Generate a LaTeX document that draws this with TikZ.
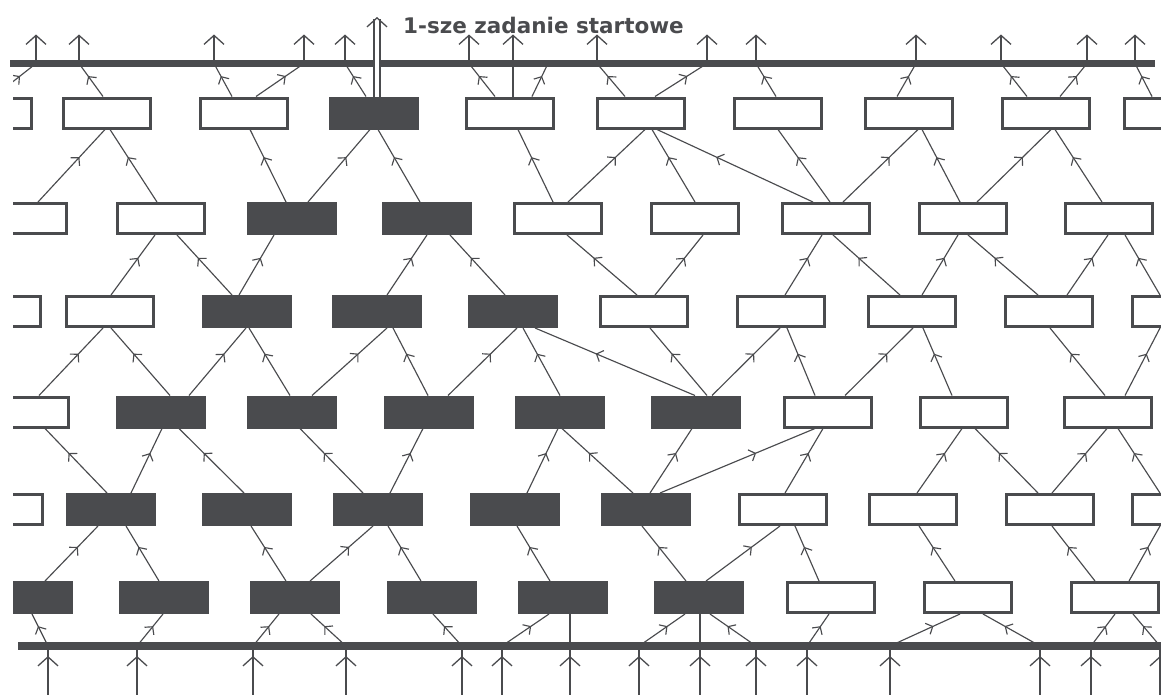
\documentclass[tikz,border=0pt]{standalone}
\usepackage{fontspec}
\newfontfamily\notefont{DejaVu Sans}
\usepackage{tikz}
\usetikzlibrary{arrows.meta,backgrounds,decorations.markings}
\definecolor{ink}{RGB}{74,75,78}
\tikzset{
  task/.style     = {draw=ink, line width=3pt, fill=white, inner sep=0pt,
                     minimum width=87pt, minimum height=30pt},
  donetask/.style = {task, fill=ink},
  dep/.style      = {draw=ink, line width=1.15pt, postaction={decorate},
                     decoration={markings, mark=at position 0.62 with
                       {\arrow[ink]{Straight Barb[length=5.5pt,width=12pt]}}}},
  plaindep/.style = {draw=ink, line width=1.15pt},
  bus/.style      = {draw=ink, line width=7.5pt},
  exit/.style     = {draw=ink, line width=1.3pt,
                     -{Straight Barb[length=9pt,width=20pt]}},
  entry/.style    = {draw=ink, line width=1.3pt, postaction={decorate},
                     decoration={markings, mark=at position 0.8 with
                       {\arrow[ink]{Straight Barb[length=9pt,width=20pt]}}}},
}

\begin{document}
\begin{tikzpicture}[x=1pt, y=-1pt]
\useasboundingbox (0,0) rectangle (1161,694);
% task rows (the ones at the edges stick out and get clipped)
\begin{scope}
\clip (13,0) rectangle (1161,694);
\foreach \n/\x/\s in {A0/-12/task, A1/107/task, A2/244/task, A3/374/donetask,
    A4/510/task, A5/641/task, A6/778/task, A7/909/task, A8/1046/task, A9/1168/task}
  \node[\s] (\n) at (\x,113) {};
\foreach \n/\x/\s in {B0/23/task, B1/161/task, B2/292/donetask, B3/427/donetask,
    B4/558/task, B5/695/task, B6/826/task, B7/963/task, B8/1109/task}
  \node[\s] (\n) at (\x,218.5) {};
\foreach \n/\x/\s in {C0/-3/task, C1/110/task, C2/247/donetask, C3/377/donetask,
    C4/513/donetask, C5/644/task, C6/781/task, C7/912/task, C8/1049/task, C9/1176/task}
  \node[\s] (\n) at (\x,311.5) {};
\foreach \n/\x/\s in {D0/25/task, D1/161/donetask, D2/292/donetask, D3/429/donetask,
    D4/560/donetask, D5/696/donetask, D6/828/task, D7/964/task, D8/1108/task}
  \node[\s] (\n) at (\x,412) {};
\foreach \n/\x/\s in {E0/-1/task, E1/111/donetask, E2/247/donetask, E3/378/donetask,
    E4/515/donetask, E5/646/donetask, E6/783/task, E7/913/task, E8/1050/task, E9/1176/task}
  \node[\s] (\n) at (\x,509.5) {};
\foreach \n/\x/\s in {F0/28/donetask, F1/164/donetask, F2/295/donetask, F3/432/donetask,
    F4/563/donetask, F5/699/donetask, F6/831/task, F7/968/task, F8/1115/task}
  \node[\s] (\n) at (\x,597.5) {};
\end{scope}

% junctions on the two buses
\foreach \n/\x in {t1/36, t2/79, t3/214, t4/304, t5/345, t7/469, t8/513, t9/548,
    t10/597, t11/707, t12/756, t13/916, t14/1001, t15/1087, t16/1135}
  \coordinate (\n) at (\x,63.5);
\coordinate (start) at (377,17);
\foreach \n/\x in {b1/48, b2/137, b3/253, b4/346, b5/462, b6/502, b7/570, b8/639,
    b9/700, b10/756, b11/807, b12/890, b13/1040, b14/1091, b15/1160}
  \coordinate (\n) at (\x,646);

\begin{scope}[on background layer]
\clip (13,0) rectangle (1161,694);
% row A -> upper bus
\foreach \lo/\a/\hi in {A0/6/t1, A1/-4/t2, A2/-12/t3, A2/12/t4, A3/-8/t5, A4/-15/t7,
    A4/22/t9, A5/-16/t10, A5/14/t11, A6/-2/t12, A7/-12/t13, A8/-19/t14, A8/14/t15,
    A9/-16/t16}
  \draw[dep] ([xshift=\a pt]\lo.north) -- (\hi);
\draw[plaindep] ([xshift=3pt]A4.north) -- (t8);
% links between the rows
\foreach \lo/\a/\hi/\b in {B0/15/A1/-2, B1/-4/A1/3, B2/-6/A2/6, B2/16/A3/-4,
    B3/-7/A3/4, B4/-5/A4/8, B4/10/A5/4, B5/0/A5/11, B6/-13/A5/16, B6/4/A6/0,
    B6/17/A7/9, B7/-3/A7/13, B7/14/A8/5, B8/-7/A8/9,
    C1/1/B1/-6, C2/-15/B1/16, C2/-8/B2/-18, C3/10/B3/0, C4/-8/B3/23, C5/-7/B4/9,
    C5/11/B5/8, C6/4/B6/-4, C7/-12/B6/7, C7/10/B7/-5, C8/-11/B7/5, C8/18/B8/-1,
    C9/-16/B8/16,
    D0/14/C1/-7, D1/9/C1/1, D1/28/C2/-1, D2/-2/C2/2, D2/20/C3/10, D3/-1/C3/16,
    D3/19/C4/4, D4/0/C4/10, D5/-1/C4/22, D5/11/C5/6, D5/16/C6/-1, D6/-13/C6/6,
    D6/17/C7/1, D7/-12/C7/11, D8/-3/C8/1, D8/17/C9/-16,
    E1/-4/D0/20, E1/20/D1/1, E2/-3/D1/18, E3/-15/D2/8, E3/12/D3/-6, E4/12/D4/-2,
    E5/-13/D4/2, E5/4/D5/-4, E5/14/D6/-13, E6/2/D6/-5, E7/4/D7/-2, E8/-12/D7/11,
    E8/2/D8/-1, E9/-16/D8/10,
    F0/17/E1/-13, F1/-5/E1/15, F2/-9/E2/4, F2/15/E3/-5, F3/-11/E3/10, F4/-13/E4/2,
    F5/-13/E5/-4, F5/7/E6/-3, F6/-12/E6/12, F7/-13/E7/6, F8/-20/E8/2, F8/14/E9/-16}
  \draw[dep] ([xshift=\a pt]\lo.north) -- ([xshift=\b pt]\hi.south);
% lower bus -> row F
\foreach \lo/\hi/\b in {b1/F0/4, b2/F1/-1, b3/F2/-16, b4/F2/16, b5/F3/1, b6/F4/-14,
    b8/F5/-14, b10/F5/11, b11/F6/-2, b12/F7/-8, b13/F7/15, b14/F8/0, b15/F8/18}
  \draw[dep] (\lo) -- ([xshift=\b pt]\hi.south);
\draw[plaindep] (b7) -- ([xshift=7pt]F4.south);
\draw[plaindep] (b9) -- ([xshift=1pt]F5.south);
\end{scope}

% the two buses with their outputs and inputs
\draw[bus] (10,63.5) -- (1155,63.5);
\draw[bus] (18,646) -- (1161,646);
\foreach \n in {t1,t2,t3,t4,t5,t7,t8,t10,t11,t12,t13,t14,t15,t16}
  \draw[exit] (\n) -- ([yshift=29pt]\n);
\foreach \n in {b1,b2,b3,b4,b5,b6,b7,b8,b9,b10,b11,b12,b13,b14,b15}
  \draw[entry] ([yshift=-50pt]\n) -- (\n);

% first start job leaves on a double line
\draw[exit, double=white, double distance=4.5pt] ([xshift=3pt]A3.north) -- (start);
\node[anchor=base west, inner sep=0pt, text=ink,
  font=\notefont\bfseries\fontsize{21.5}{21.5}\selectfont] (title) at (403,33)
  {1-sze zadanie startowe};
\end{tikzpicture}
\end{document}
